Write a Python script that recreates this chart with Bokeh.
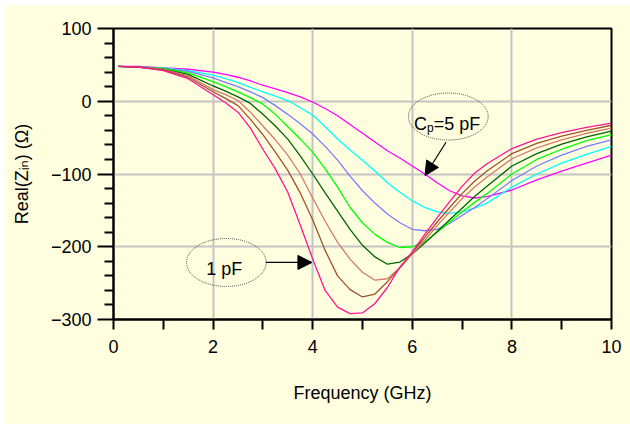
from bokeh.plotting import figure
from bokeh.models import Range1d, Label, Arrow, NormalHead, FixedTicker
from bokeh.embed import file_html
from bokeh.resources import INLINE

# ---------------- data ----------------
freq_ghz = [0.1, 0.5, 1.0, 1.5, 2.0, 2.25, 2.5, 2.75, 3.0, 3.25, 3.5, 3.75, 4.0,
            4.25, 4.5, 4.75, 5.0, 5.25, 5.5, 5.75, 6.0, 6.25, 6.5, 6.75, 7.0,
            7.25, 7.5, 8.0, 8.5, 9.0, 9.5, 10.0]

re_c1 = [48, 47, 42, 31, 9, -2, -15, -37, -66, -93, -125, -170, -217,
         -260, -283, -292, -291, -278, -256, -228, -207, -183, -160, -138, -117,
         -99, -86, -65, -52, -43, -36, -30]
re_c2 = [48, 47, 43, 33, 13, 4, -6, -25, -46, -70, -95, -126, -163,
         -205, -240, -259, -269, -265, -248, -229, -208, -187, -166, -146, -127,
         -110, -96, -72, -58, -48, -40, -33]
re_c3 = [48, 47, 44, 35, 16, 9, 1, -15, -34, -53, -74, -100, -133,
         -165, -194, -217, -235, -246, -244, -229, -210, -191, -171, -152, -134,
         -118, -104, -79, -64, -53, -44, -37]
re_c4 = [48, 47, 44, 37, 21, 14, 6, -3, -18, -34, -52, -75, -100,
         -126, -151, -176, -198, -214, -224, -221, -210, -195, -179, -163, -147,
         -131, -117, -89, -72, -59, -49, -41]
re_c5 = [48, 47, 45, 39, 27, 20, 13, 5, -4, -18, -35, -52, -70,
         -93, -118, -146, -167, -183, -194, -201, -200, -193, -180, -166, -152,
         -139, -127, -100, -80, -66, -54, -46]
re_c6 = [48, 47, 45, 41, 32, 26, 20, 13, 5, -6, -18, -31, -45,
         -62, -81, -103, -123, -140, -155, -167, -176, -178, -176, -168, -157,
         -146, -134, -109, -89, -74, -62, -53]
re_c7 = [48, 47, 46, 42, 36, 31, 26, 19, 13, 7, 1, -9, -19,
         -35, -52, -67, -81, -96, -112, -125, -137, -146, -152, -154, -152,
         -147, -140, -118, -100, -85, -73, -62]
re_c8 = [48, 48, 46, 44, 40, 37, 33, 28, 22, 17, 12, 6, -1,
         -10, -20, -32, -44, -56, -68, -78, -89, -100, -112, -123, -130,
         -133, -131, -122, -108, -96, -85, -74]

series = [re_c8, re_c7, re_c6, re_c5, re_c4, re_c3, re_c2, re_c1]
colors = ["#ff00ff", "#00ffff", "#7b7bff", "#00ff00", "#006400",
          "#d47a6a", "#a0522d", "#ff1493"]

x_major = [0, 2, 4, 6, 8, 10]
x_minor = [1, 3, 5, 7, 9]
y_major = [-300, -200, -100, 0, 100]
y_minor = [v for v in range(-300, 101, 20) if v % 100 != 0]

BG = "#ffffe0"
FONT = "Liberation Sans, DejaVu Sans"

p = figure(width=626, height=420, margin=(4, 0, 0, 4),
           x_range=Range1d(0, 10), y_range=Range1d(-300, 100),
           output_backend="svg", toolbar_location=None,
           min_border_left=109, min_border_right=19,
           min_border_top=24, min_border_bottom=105,
           background_fill_color=BG, border_fill_color=BG,
           outline_line_color="black", outline_line_width=2)

p.xaxis.ticker = FixedTicker(ticks=x_major, minor_ticks=x_minor)
p.yaxis.ticker = FixedTicker(ticks=y_major, minor_ticks=y_minor)
for ax in (p.xaxis[0], p.yaxis[0]):
    ax.axis_line_color = "black"
    ax.axis_line_width = 2
    ax.major_tick_line_color = "black"
    ax.major_tick_line_width = 2
    ax.minor_tick_line_color = "black"
    ax.minor_tick_line_width = 2
    ax.major_tick_in = 0
    ax.minor_tick_in = 0
    ax.major_label_text_font = FONT
    ax.major_label_text_font_size = "18px"
    ax.major_label_text_color = "black"
    ax.axis_label_text_font = FONT
    ax.axis_label_text_font_size = "18px"
    ax.axis_label_text_font_style = "normal"
    ax.axis_label_text_color = "black"
p.xaxis.major_tick_out = 10
p.xaxis.minor_tick_out = 10
p.xaxis.major_label_standoff = 10
p.yaxis.major_tick_out = 16
p.yaxis.minor_tick_out = 9
p.yaxis.major_label_standoff = 6

p.xaxis.axis_label = "Frequency (GHz)"
p.xaxis.axis_label_standoff = 27
p.yaxis.axis_label = "Real(Z\u1d62\u2099) (\u03a9)"
p.yaxis.axis_label_standoff = 16

p.xgrid.ticker = FixedTicker(ticks=x_major)
p.ygrid.ticker = FixedTicker(ticks=y_major)
for g in (p.xgrid[0], p.ygrid[0]):
    g.grid_line_color = "#c4c4c4"
    g.grid_line_width = 2

for vals, col in zip(series, colors):
    p.line(freq_ghz, vals, line_color=col, line_width=1.3)

# ---------------- annotations ----------------
txt_kw = dict(text_align="left", text_baseline="alphabetic", text_font=FONT,
              text_color="black")
# Cp=5 pF
p.ellipse(x=[6.723], y=[-21.0], width=1.6, height=64.6, fill_alpha=0,
          line_color="#444444", line_dash="1 1", line_width=1)
p.add_layout(Label(x=6.036, y=-30.6, text="C", text_font_size="18px", **txt_kw))
p.add_layout(Label(x=6.297, y=-36.1, text="p", text_font_size="12px", **txt_kw))
p.add_layout(Label(x=6.431, y=-30.6, text="=5 pF", text_font_size="18px", **txt_kw))
p.add_layout(Arrow(end=NormalHead(size=14, fill_color="black", line_color="black"),
                   x_start=6.677, y_start=-56.3, x_end=6.256, y_end=-102.1,
                   line_color="black", line_width=1.2))
# 1 pF
p.ellipse(x=[2.266], y=[-221.6], width=1.6, height=66, fill_alpha=0,
          line_color="#444444", line_dash="1 1", line_width=1)
p.add_layout(Label(x=2.226, y=-229.9, text="1 pF", text_font_size="18px",
                   text_align="center", text_baseline="alphabetic",
                   text_font=FONT, text_color="black"))
p.add_layout(Arrow(end=NormalHead(size=14, fill_color="black", line_color="black"),
                   x_start=3.062, y_start=-221.6, x_end=3.985, y_end=-221.6,
                   line_color="black", line_width=1.2))

open("out.html", "w").write(file_html(p, INLINE))
